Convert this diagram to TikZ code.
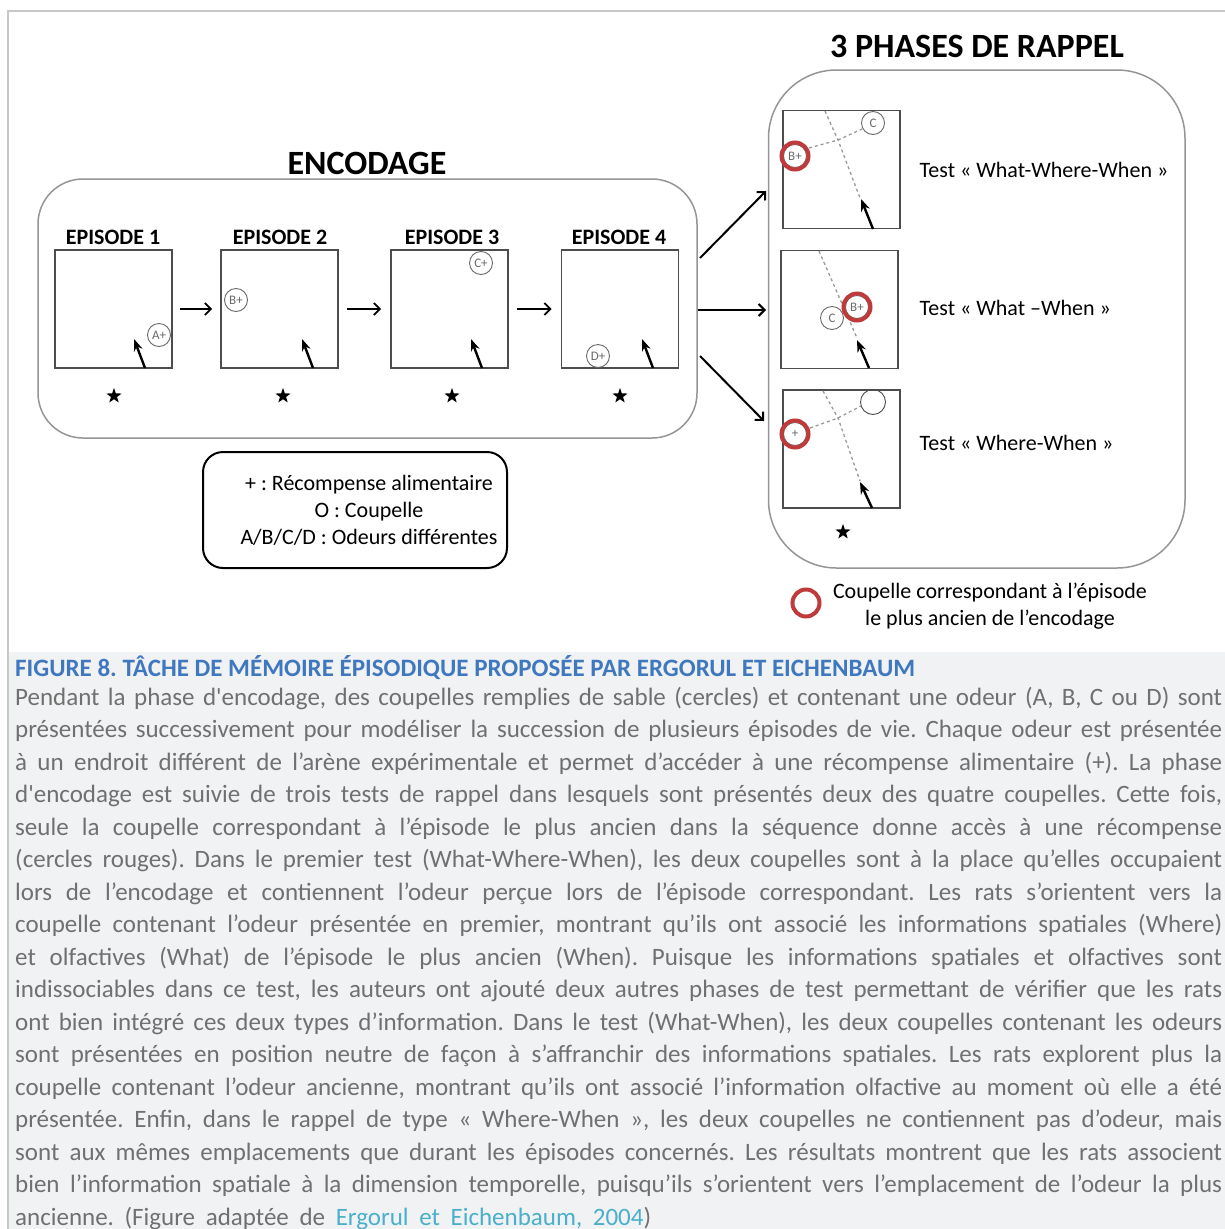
\documentclass[tikz,border=0pt]{standalone}
\usepackage{fontspec}
\setmainfont{Carlito}
\newfontfamily\capfont{Carlito}
\usetikzlibrary{arrows.meta,shapes.geometric}
\definecolor{framegray}{HTML}{C8C8C8}
\definecolor{capbg}{HTML}{F1F2F4}
\definecolor{captext}{HTML}{707070}
\definecolor{capblue}{HTML}{3F78BF}
\definecolor{linkblue}{HTML}{4AAFCB}
\definecolor{boxgray}{HTML}{959595}
\definecolor{arenagray}{HTML}{4D4D4D}
\definecolor{cupgray}{HTML}{6A6A6A}
\definecolor{dashgray}{HTML}{9A9A9A}
\definecolor{cupred}{HTML}{C03A3B}
\newcommand{\jline}[1]{\makebox[1207pt][s]{#1}}
\frenchspacing
\begin{document}
\begin{tikzpicture}[x=1pt,y=-1pt,
  head/.style={font=\fontsize{34}{36}\selectfont\bfseries, inner sep=0pt},
  eplab/.style={font=\fontsize{22}{24}\selectfont\bfseries, inner sep=0pt},
  roundframe/.style={draw=boxgray, line width=1.5pt, fill=white},
  arena/.style={draw=arenagray, line width=1.8pt, minimum width=117pt, minimum height=118pt, inner sep=0pt},
  cup/.style={circle, draw=cupgray, line width=0.9pt, minimum size=23pt, inner sep=0pt, text=cupgray, font=\fontsize{13}{14}\selectfont},
  redcup/.style={circle, draw=cupred, line width=4pt, minimum size=27pt, inner sep=0pt},
  starmark/.style={star, star points=5, star point ratio=2.5, fill=black, inner sep=0pt, minimum size=16pt},
  rat/.style={line width=2.4pt, -{Stealth[length=12pt,width=9pt]}},
  flow/.style={line width=2pt, -{Straight Barb[length=6pt,width=12pt]}},
  trail/.style={dashgray, line width=1.3pt, dash pattern=on 3pt off 3pt},
  testlab/.style={font=\fontsize{22}{24}\selectfont, anchor=base west, inner sep=0pt},
  legtext/.style={font=\fontsize{22}{27}\selectfont, align=center, inner sep=0pt},
  capline/.style={anchor=base west, inner sep=0pt, text=captext, font=\capfont\fontsize{25}{28}\selectfont}
]
\useasboundingbox (0,0) rectangle (1225,1229);
% frame and caption background
\fill[capbg] (9,652) rectangle (1225,1229);
\draw[framegray, line width=2pt] (8,1229) -- (8,11) -- (1225,11);

% ===== ENCODAGE =====
\node[head] (enc) at (367,163) {ENCODAGE};
\draw[roundframe, rounded corners=45pt] (38,179) rectangle (697,438);

\foreach \n/\x/\lx/\sx in {1/113.5/113/114, 2/279.5/280/283, 3/449.5/452/452, 4/620/619/620}{
  \node[eplab] (lab\n) at (\lx,237) {EPISODE \n};
  \node[arena] (e\n) at (\x,309) {};
  \node[starmark] (st\n) at (\sx,396) {};
}
\draw[flow, line width=1.8pt, shorten <=7pt, shorten >=8pt] (e1) -- (e2);
\draw[flow, line width=1.8pt, shorten <=8pt, shorten >=9pt] (e2) -- (e3);
\draw[flow, line width=1.8pt, shorten <=8pt, shorten >=9pt] (e3) -- (e4);

\node[cup] (ca) at (159,335) {A+};
\node[cup] (cb) at (236,300) {B+};
\node[cup] (cc) at (481,263) {C+};
\node[cup] (cd) at (598,356) {D+};
\coordinate (r1a) at (145,368); \coordinate (r1b) at (134,339);
\coordinate (r2a) at (313,368); \coordinate (r2b) at (302,339);
\coordinate (r3a) at (482,368); \coordinate (r3b) at (471,339);
\coordinate (r4a) at (653,368); \coordinate (r4b) at (642,339);
\draw[rat] (r1a) -- (r1b);
\draw[rat] (r2a) -- (r2b);
\draw[rat] (r3a) -- (r3b);
\draw[rat] (r4a) -- (r4b);

% ===== RAPPEL =====
\node[head] (rap) at (977,46) {3 PHASES DE RAPPEL};
\draw[roundframe, rounded corners=68pt] (768.5,70) rectangle (1185,568);

\node[arena] (t1) at (841.5,169.5) {};
\node[arena] (t2) at (839.5,309.5) {};
\node[arena] (t3) at (841.5,449) {};
\node[starmark] (st5) at (843,532) {};

% test 1
\coordinate (k1) at (838,140);
\draw[trail] (825,111) -- (k1) -- (860,198);
\draw[trail] (809,148) -- (k1) -- (862,129);
\node[cup] (t1b) at (795,156) {B+};
\node[redcup] (t1r) at (795,156) {};
\node[cup] (t1c) at (873,123) {C};
\coordinate (r5a) at (873,229); \coordinate (r5b) at (861,199);
\draw[rat] (r5a) -- (r5b);

% test 2
\draw[trail] (819,251) -- (857,338);
\node[cup] (t2c) at (832,318) {C};
\node[cup, fill=white] (t2b) at (857,307) {B+};
\node[redcup] (t2r) at (857,307) {};
\coordinate (r6a) at (869,368); \coordinate (r6b) at (857,340);
\draw[rat] (r6a) -- (r6b);

% test 3
\coordinate (k3) at (838,418);
\draw[trail] (823,391) -- (k3) -- (860,481);
\draw[trail] (810,428) -- (k3) -- (861,406);
\node[cup] (t3p) at (795,434) {+};
\node[redcup] (t3r) at (795,434) {};
\node[cup, minimum size=25pt, draw=arenagray] (t3o) at (873,402) {};
\coordinate (r7a) at (872,508); \coordinate (r7b) at (860,482);
\draw[rat] (r7a) -- (r7b);

\node[testlab] (tl1) at (919.5,177) {Test « What-Where-When »};
\node[testlab] (tl2) at (919.5,315) {Test « What –When »};
\node[testlab] (tl3) at (919.5,450) {Test « Where-When »};

% flow arrows encodage -> rappel
\coordinate (s1) at (700,258); \coordinate (f1) at (766,191);
\coordinate (s2) at (698,310); \coordinate (f2) at (766,310);
\coordinate (s3) at (700,356); \coordinate (f3) at (764,421);
\draw[flow] (s1) -- (f1);
\draw[flow] (s2) -- (f2);
\draw[flow] (s3) -- (f3);

% ===== legends =====
\draw[black, line width=2pt, rounded corners=20pt] (203,452) rectangle (507,568);
\node[legtext] (leg) at (369,510) {+ : Récompense alimentaire\\O : Coupelle\\A/B/C/D : Odeurs différentes};

\node[redcup] (legr) at (806,603) {};
\node[legtext] (legt) at (990,606) {Coupelle correspondant à l’épisode\\le plus ancien de l’encodage};

% ===== caption =====
\node[anchor=base west, inner sep=0pt, text=capblue, font=\capfont\fontsize{25}{28}\selectfont\bfseries] (captitle) at (15,676) {FIGURE 8. TÂCHE DE MÉMOIRE ÉPISODIQUE PROPOSÉE PAR ERGORUL ET EICHENBAUM};
\node[capline] (c1) at (15,705) {\jline{Pendant la phase d'encodage, des coupelles remplies de sable (cercles) et contenant une odeur (A, B, C ou D) sont}};
\node[capline] (c2) at (15,737.5) {\jline{présentées successivement pour modéliser la succession de plusieurs épisodes de vie. Chaque odeur est présentée}};
\node[capline] (c3) at (15,770) {\jline{à un endroit différent de l’arène expérimentale et permet d’accéder à une récompense alimentaire (+). La phase}};
\node[capline] (c4) at (15,802.5) {\jline{d'encodage est suivie de trois tests de rappel dans lesquels sont présentés deux des quatre coupelles. Cette fois,}};
\node[capline] (c5) at (15,835) {\jline{seule la coupelle correspondant à l’épisode le plus ancien dans la séquence donne accès à une récompense}};
\node[capline] (c6) at (15,867.5) {\jline{(cercles rouges). Dans le premier test (What-Where-When), les deux coupelles sont à la place qu’elles occupaient}};
\node[capline] (c7) at (15,900) {\jline{lors de l’encodage et contiennent l’odeur perçue lors de l’épisode correspondant. Les rats s’orientent vers la}};
\node[capline] (c8) at (15,932.5) {\jline{coupelle contenant l’odeur présentée en premier, montrant qu’ils ont associé les informations spatiales (Where)}};
\node[capline] (c9) at (15,965) {\jline{et olfactives (What) de l’épisode le plus ancien (When). Puisque les informations spatiales et olfactives sont}};
\node[capline] (c10) at (15,997.5) {\jline{indissociables dans ce test, les auteurs ont ajouté deux autres phases de test permettant de vérifier que les rats}};
\node[capline] (c11) at (15,1030) {\jline{ont bien intégré ces deux types d’information. Dans le test (What-When), les deux coupelles contenant les odeurs}};
\node[capline] (c12) at (15,1062.5) {\jline{sont présentées en position neutre de façon à s’affranchir des informations spatiales. Les rats explorent plus la}};
\node[capline] (c13) at (15,1095) {\jline{coupelle contenant l’odeur ancienne, montrant qu’ils ont associé l’information olfactive au moment où elle a été}};
\node[capline] (c14) at (15,1127.5) {\jline{présentée. Enfin, dans le rappel de type « Where-When », les deux coupelles ne contiennent pas d’odeur, mais}};
\node[capline] (c15) at (15,1160) {\jline{sont aux mêmes emplacements que durant les épisodes concernés. Les résultats montrent que les rats associent}};
\node[capline] (c16) at (15,1192.5) {\jline{bien l’information spatiale à la dimension temporelle, puisqu’ils s’orientent vers l’emplacement de l’odeur la plus}};
\node[capline] (c17) at (15,1225) {\makebox[636pt][s]{ancienne. (Figure adaptée de \textcolor{linkblue}{Ergorul et Eichenbaum, 2004})}};
\end{tikzpicture}
\end{document}
